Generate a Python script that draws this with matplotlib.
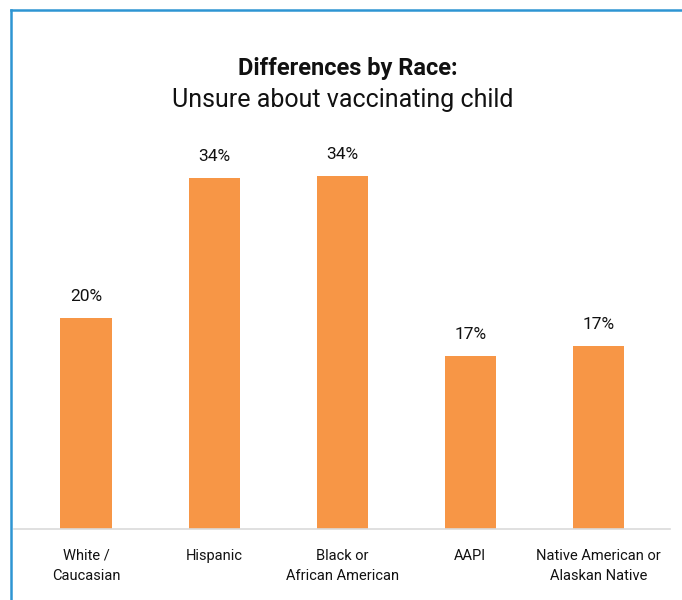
import matplotlib.pyplot as plt
from matplotlib.lines import Line2D

plt.rcParams["font.family"] = ["Roboto", "DejaVu Sans"]

# Data.
categories = ["White /\nCaucasian", "Hispanic", "Black or\nAfrican American",
              "AAPI", "Native American or\nAlaskan Native"]
values = [20.3, 33.8, 34.0, 16.7, 17.6]
labels = ["20%", "34%", "34%", "17%", "17%"]

fig = plt.figure(figsize=(6.82, 6.0), dpi=100)
ax = fig.add_axes([0.021, 0.118, 0.9615, 0.648])

x = range(len(categories))
bars = ax.bar(x, values, width=0.4, color="#F79646")
for b, lab in zip(bars, labels):
    ax.annotate(lab, (b.get_x() + b.get_width() / 2, b.get_height()),
                xytext=(0, 15.5), textcoords="offset points",
                ha="center", va="center", fontsize=12.5, color="#111111")

ax.set_xlim(-0.56, 4.56)
ax.set_ylim(0, 37.4)
ax.set_xticks(list(x))
ax.set_xticklabels(categories, fontsize=10.5, color="#111111", linespacing=1.55)
ax.tick_params(axis="x", length=0, pad=14)
ax.set_yticks([])
for side in ("top", "right", "left"):
    ax.spines[side].set_visible(False)
ax.spines["bottom"].set_color("#dadada")
ax.spines["bottom"].set_linewidth(1.2)

# Title block.
fig.text(0.51, 1 - 68 / 600, "Differences by Race:", ha="center", va="center",
         fontsize=17, fontweight="bold", color="#111111")
fig.text(0.503, 1 - 100 / 600, "Unsure about vaccinating child", ha="center",
         va="center", fontsize=18, color="#111111")

# Blue frame on top and left.
blue = "#2E95D3"
fig.add_artist(Line2D([11 / 682, 1.0], [1 - 9.5 / 600] * 2, color=blue, lw=1.8,
                      transform=fig.transFigure))
fig.add_artist(Line2D([11 / 682] * 2, [0.0, 1 - 9.5 / 600], color=blue, lw=1.8,
                      transform=fig.transFigure))

fig.savefig("out.png", dpi=100)
